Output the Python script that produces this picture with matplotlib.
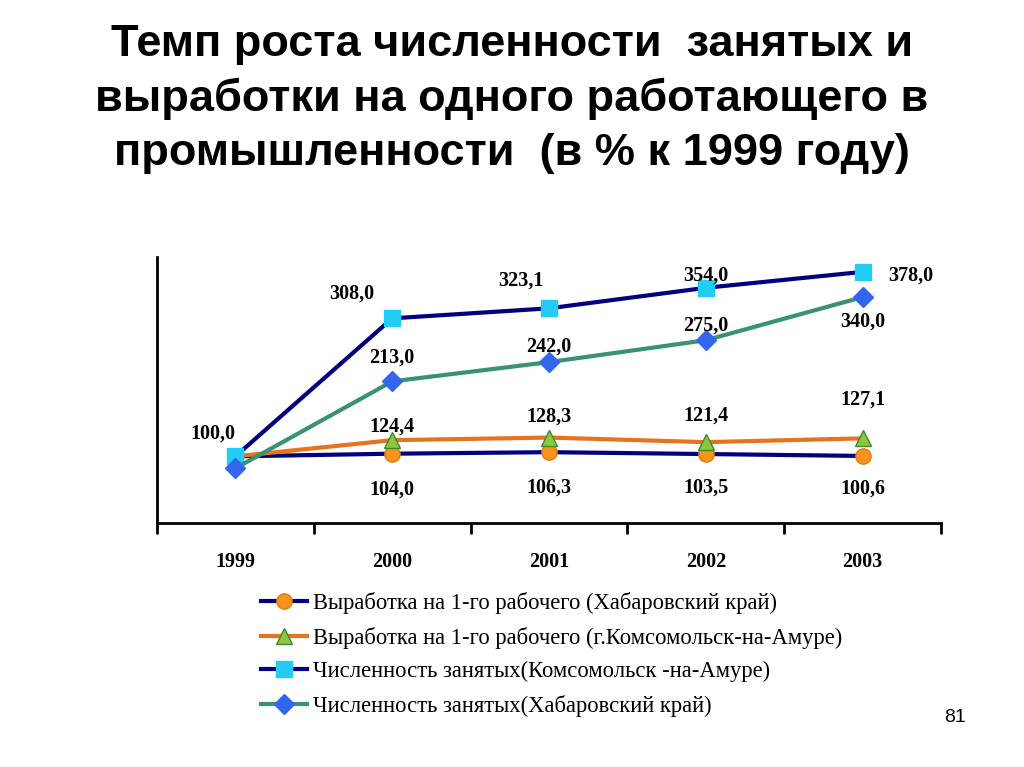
import matplotlib
matplotlib.use("Agg")
import matplotlib.pyplot as plt

years = ["1999", "2000", "2001", "2002", "2003"]
vyr_khab = [100.0, 104.0, 106.3, 103.5, 100.6]
vyr_koms = [100.0, 124.4, 128.3, 121.4, 127.1]
chisl_koms = [100.0, 308.0, 323.1, 354.0, 378.0]
chisl_khab = [82.0, 213.0, 242.0, 275.0, 340.0]
labels_khab_v = ["", "104,0", "106,3", "103,5", "100,6"]
labels_koms_v = ["", "124,4", "128,3", "121,4", "127,1"]
labels_koms_c = ["100,0", "308,0", "323,1", "354,0", "378,0"]
labels_khab_c = ["", "213,0", "242,0", "275,0", "340,0"]
legend_names = [
    "Выработка на 1-го рабочего (Хабаровский край)",
    "Выработка на 1-го рабочего (г.Комсомольск-на-Амуре)",
    "Численность занятых(Комсомольск -на-Амуре)",
    "Численность занятых(Хабаровский край)",
]
title = "Темп роста численности  занятых и\nвыработки на одного работающего в\nпромышленности  (в % к 1999 году)"

fig = plt.figure(figsize=(10.24, 7.67), dpi=100)
ax = fig.add_axes([157/1024, 1-522.7/767, (941-157)/1024, (522.7-257.3)/767])

x = list(range(len(years)))
serif = "Liberation Serif"

series = [
    (vyr_khab, dict(color="#000080", marker="o", mfc="#F7941D", mec="#E07B10", ms=11), labels_khab_v,
     [(0, 0), (0, -36), (0, -35), (0, -34), (0, -33)]),
    (vyr_koms, dict(color="#E8731E", marker="^", mfc="#8DC63F", mec="#3C8A2E", ms=12), labels_koms_v,
     [(0, 0), (0, 14), (0, 21), (0, 27), (0, 39)]),
    (chisl_koms, dict(color="#000080", marker="s", mfc="#22CCF5", mec="#22CCF5", ms=11.5), labels_koms_c,
     [(-23, 23), (-40, 25), (-28, 28), (0, 12), (48, -4)]),
    (chisl_khab, dict(color="#3A9370", marker="D", mfc="#3366EE", mec="#3366EE", ms=10), labels_khab_c,
     [(0, 0), (0, 24), (0, 16), (0, 15), (0, -24)]),
]

handles = []
for (vals, st, labs, offs), name in zip(series, legend_names):
    h, = ax.plot(x, vals, lw=3, label=name, **st)
    handles.append(h)
    for xi, v, lab, off in zip(x, vals, labs, offs):
        if lab:
            ax.annotate(lab, (xi, v), xytext=off, textcoords="offset pixels",
                        ha="center", va="center", fontsize=14.5, fontweight="bold",
                        family=serif, color="black")

ax.set_xlim(-0.5, 4.5)
ax.set_ylim(0, 400)
ax.spines["top"].set_visible(False)
ax.spines["right"].set_visible(False)
ax.spines["left"].set_linewidth(2)
ax.spines["bottom"].set_linewidth(2)
ax.set_yticks([])
ax.set_xticks([i - 0.5 for i in range(len(years) + 1)])
ax.set_xticklabels([])
ax.tick_params(axis="x", which="major", direction="out", length=8, width=2)
ax.set_xticks(x, minor=True)
ax.set_xticklabels(years, minor=True, fontsize=14.5, fontweight="bold", family=serif)
ax.tick_params(axis="x", which="minor", length=0, pad=21)

fig.legend(handles=handles, loc="upper left", bbox_to_anchor=(252/1024, 1-583/767),
           frameon=False, prop={"family": serif, "size": 16.3},
           handlelength=2.05, handletextpad=0.25, labelspacing=0.55, borderaxespad=0)

fig.text(0.5, 1-99/767, title, ha="center", va="center", fontsize=32.5, fontweight="bold",
         family="Liberation Sans", linespacing=1.4)
fig.text(955/1024, 1-718/767, "81", ha="center", va="center", fontsize=14, family="Liberation Sans")

fig.savefig("out.png", dpi=100)
